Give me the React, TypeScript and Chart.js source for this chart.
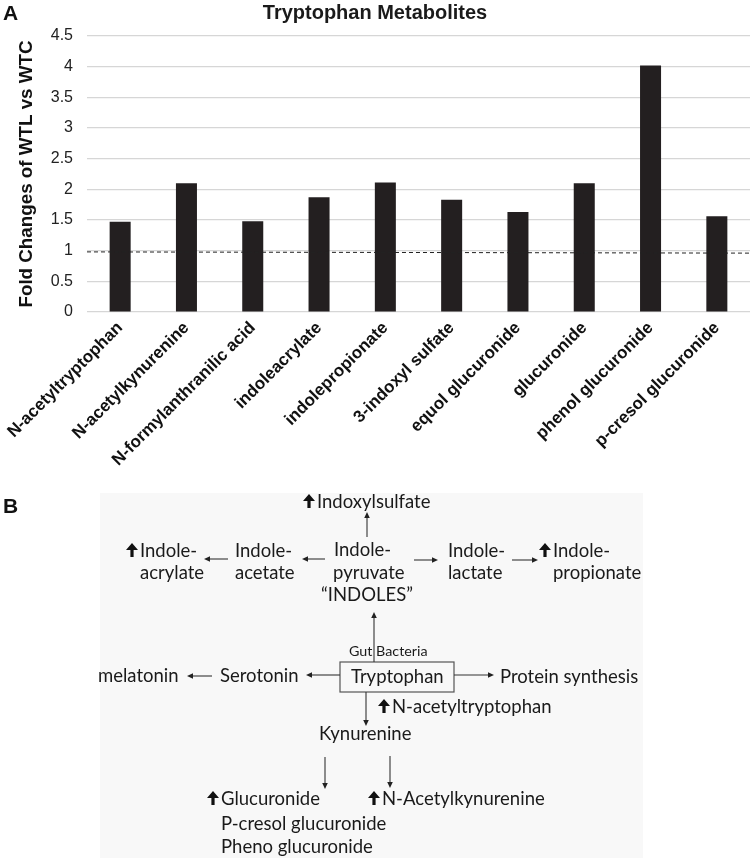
import React, { useEffect, useRef } from "react";
import { Chart, registerables } from "chart.js";

Chart.register(...registerables);

// ---------- Panel A data ----------
const categories = [
  "N-acetyltryptophan",
  "N-acetylkynurenine",
  "N-formylanthranilic acid",
  "indoleacrylate",
  "indolepropionate",
  "3-indoxyl sulfate",
  "equol glucuronide",
  "glucuronide",
  "phenol glucuronide",
  "p-cresol glucuronide",
];
const foldChanges = [1.47, 2.1, 1.48, 1.87, 2.11, 1.83, 1.63, 2.1, 4.02, 1.56];
const yMin = 0;
const yMax = 4.5;
const yStep = 0.5;
const referenceStart = 0.98;
const referenceEnd = 0.96;

const chartTitle = "Tryptophan Metabolites";
const yAxisTitle = "Fold Changes of WTL vs WTC";

// ---------- Panel B diagram ----------
type Label = { text: string; x: number; y: number; up?: boolean; size?: number };
const diagramLabels: Label[] = [
  { text: "Indoxylsulfate", x: 317, y: 508, up: true },
  { text: "Indole-", x: 140, y: 557, up: true },
  { text: "acrylate", x: 140, y: 579 },
  { text: "Indole-", x: 235, y: 557 },
  { text: "acetate", x: 235, y: 579 },
  { text: "Indole-", x: 334, y: 556 },
  { text: "pyruvate", x: 333, y: 579 },
  { text: "\u201CINDOLES\u201D", x: 321, y: 601 },
  { text: "Indole-", x: 448, y: 557 },
  { text: "lactate", x: 448, y: 579 },
  { text: "Indole-", x: 553, y: 557, up: true },
  { text: "propionate", x: 553, y: 579 },
  { text: "Gut Bacteria", x: 349, y: 656, size: 14.3 },
  { text: "Tryptophan", x: 351, y: 683 },
  { text: "melatonin", x: 98, y: 682 },
  { text: "Serotonin", x: 220, y: 682 },
  { text: "Protein synthesis", x: 500, y: 683 },
  { text: "N-acetyltryptophan", x: 392, y: 713, up: true },
  { text: "Kynurenine", x: 319, y: 740 },
  { text: "Glucuronide", x: 221, y: 805, up: true },
  { text: "N-Acetylkynurenine", x: 382, y: 805, up: true },
  { text: "P-cresol glucuronide", x: 221, y: 830 },
  { text: "Pheno glucuronide", x: 221, y: 853 },
];
type Arrow = { x1: number; y1: number; x2: number; y2: number };
const diagramArrows: Arrow[] = [
  { x1: 367, y1: 537, x2: 367, y2: 512 },
  { x1: 228, y1: 559, x2: 204, y2: 559 },
  { x1: 325, y1: 559, x2: 302, y2: 559 },
  { x1: 414, y1: 560, x2: 438, y2: 560 },
  { x1: 512, y1: 560, x2: 538, y2: 560 },
  { x1: 374, y1: 662, x2: 374, y2: 612 },
  { x1: 340, y1: 675, x2: 306, y2: 675 },
  { x1: 212, y1: 676, x2: 187, y2: 676 },
  { x1: 454, y1: 675, x2: 494, y2: 675 },
  { x1: 366, y1: 692, x2: 366, y2: 726 },
  { x1: 325, y1: 757, x2: 325, y2: 789 },
  { x1: 390, y1: 756, x2: 390, y2: 788 },
];

const referenceLine = {
  id: "referenceLine",
  afterDatasetsDraw(chart: any) {
    const { ctx, chartArea, scales } = chart;
    const y = scales.y;
    ctx.save();
    ctx.setLineDash([4, 3]);
    ctx.strokeStyle = "#222";
    ctx.lineWidth = 1;
    ctx.beginPath();
    ctx.moveTo(chartArea.left, y.getPixelForValue(referenceStart));
    ctx.lineTo(chartArea.right, y.getPixelForValue(referenceEnd));
    ctx.stroke();
    ctx.restore();
  },
};

function ThinArrow({ a }: { a: Arrow }) {
  const dx = a.x2 - a.x1;
  const dy = a.y2 - a.y1;
  const len = Math.sqrt(dx * dx + dy * dy);
  const ux = dx / len;
  const uy = dy / len;
  const hl = 6;
  const hw = 2.8;
  const bx = a.x2 - ux * hl;
  const by = a.y2 - uy * hl;
  const pts = `${a.x2},${a.y2} ${bx - uy * hw},${by + ux * hw} ${bx + uy * hw},${by - ux * hw}`;
  return (
    <g>
      <line x1={a.x1} y1={a.y1} x2={bx} y2={by} stroke="#333" strokeWidth={1.1} />
      <polygon points={pts} fill="#222" />
    </g>
  );
}

function BoldUp({ cx, base }: { cx: number; base: number }) {
  const top = base - 14;
  const hh = 7;
  const hw = 6;
  const sw = 1.6;
  const pts = `${cx},${top} ${cx + hw},${top + hh} ${cx + sw},${top + hh} ${cx + sw},${base} ${cx - sw},${base} ${cx - sw},${top + hh} ${cx - hw},${top + hh}`;
  return <polygon points={pts} fill="#111" />;
}

export default function App() {
  const canvasRef = useRef<HTMLCanvasElement>(null);

  useEffect(() => {
    const family = "'Liberation Sans', Arial, Helvetica, sans-serif";
    const chart = new Chart(canvasRef.current as HTMLCanvasElement, {
      type: "bar",
      data: {
        labels: categories,
        datasets: [
          {
            data: foldChanges,
            backgroundColor: "#231f20",
            borderWidth: 0,
            categoryPercentage: 1,
            barPercentage: 0.317,
          },
        ],
      },
      options: {
        animation: false,
        responsive: true,
        maintainAspectRatio: false,
        layout: { padding: 0 },
        plugins: {
          legend: { display: false },
          tooltip: { enabled: false },
          title: {
            display: true,
            text: chartTitle,
            color: "#1a1a1a",
            font: { family, size: 20, weight: "bold" },
            padding: { top: 1, bottom: 11 },
          },
        },
        scales: {
          x: {
            border: { display: false },
            grid: { display: false, drawTicks: false },
            ticks: {
              autoSkip: false,
              minRotation: 45,
              maxRotation: 45,
              padding: 6,
              color: "#111",
              font: { family, size: 17, weight: "bold" },
            },
            afterFit: (scale: any) => {
              scale.height = 168;
            },
          },
          y: {
            min: yMin,
            max: yMax,
            border: { display: false },
            grid: { color: "#d6d6d6", lineWidth: 1.2, drawTicks: false },
            ticks: {
              stepSize: yStep,
              padding: 14,
              color: "#222",
              font: { family, size: 16 },
              callback: (v: any) => String(Number(v)),
            },
            title: {
              display: true,
              text: yAxisTitle,
              color: "#111",
              font: { family, size: 18.8, weight: "bold" },
              padding: { top: 16, bottom: 0 },
            },
            afterFit: (scale: any) => {
              scale.width = 87;
            },
          },
        },
      },
      plugins: [referenceLine],
    });
    return () => chart.destroy();
  }, []);

  return (
    <div
      style={{
        position: "absolute",
        left: 0,
        top: 0,
        width: 750,
        height: 858,
        background: "#ffffff",
        overflow: "hidden",
      }}
    >
      <div style={{ position: "absolute", left: 0, top: 0, width: 750, height: 480 }}>
        <canvas ref={canvasRef} />
      </div>
      <svg
        width={750}
        height={858}
        style={{ position: "absolute", left: 0, top: 0, pointerEvents: "none" }}
      >
        <text x={3} y={20} fontFamily="'Liberation Sans', Arial, sans-serif" fontWeight="bold" fontSize={21} fill="#111">
          A
        </text>
        <text x={3} y={513} fontFamily="'Liberation Sans', Arial, sans-serif" fontWeight="bold" fontSize={21} fill="#111">
          B
        </text>
        <rect x={100} y={493} width={543} height={365} fill="#f8f8f8" />
        <rect x={340} y={662} width={114} height={30} fill="none" stroke="#555" strokeWidth={1.2} />
        {diagramArrows.map((a, i) => (
          <ThinArrow key={i} a={a} />
        ))}
        {diagramLabels.map((l, i) => (
          <g key={i}>
            {l.up ? <BoldUp cx={l.x - 8} base={l.y} /> : null}
            <text x={l.x} y={l.y} fontFamily="Lato, 'Noto Sans', sans-serif" fontSize={l.size ?? 18.5} fill="#1a1a1a">
              {l.text}
            </text>
          </g>
        ))}
      </svg>
    </div>
  );
}
